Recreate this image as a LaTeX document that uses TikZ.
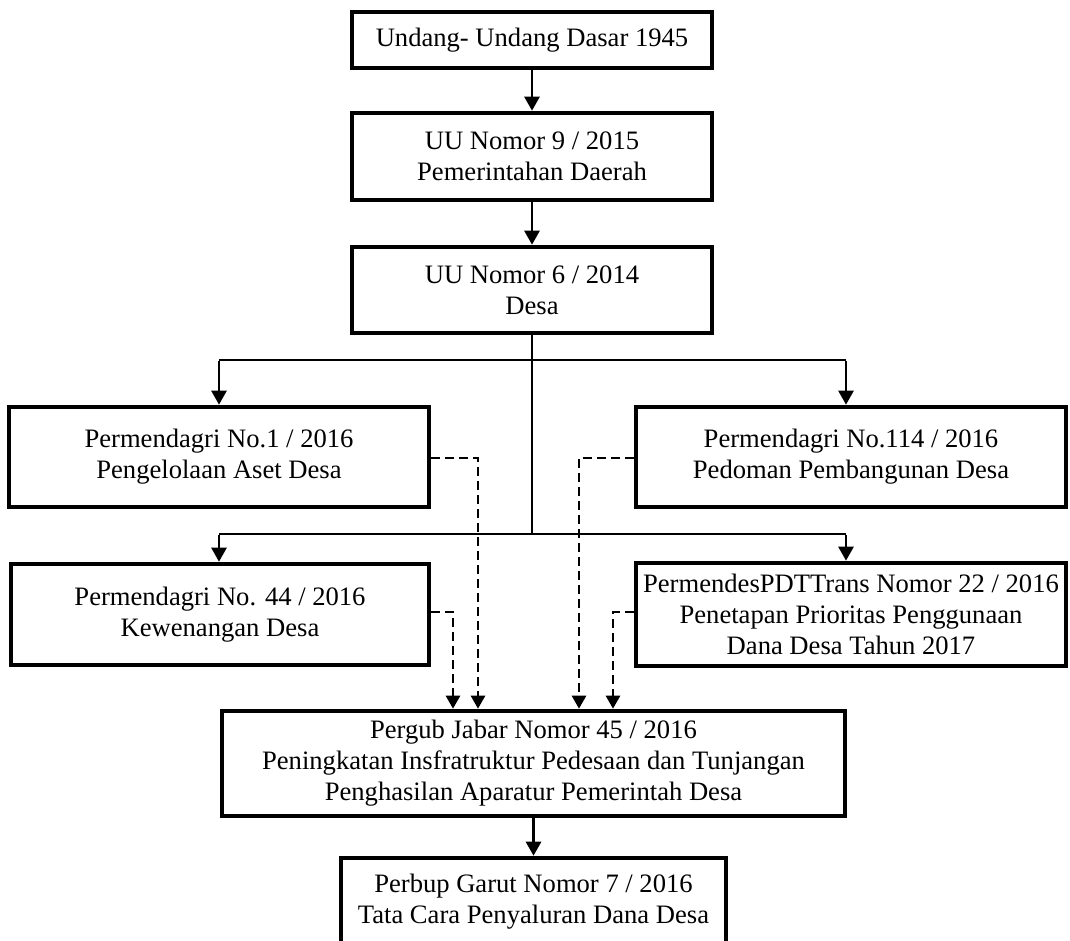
\documentclass[tikz,border=0pt]{standalone}
\usepackage{fontspec}
\setmainfont{Liberation Serif}
\usetikzlibrary{arrows.meta,calc}
\begin{document}
\begin{tikzpicture}[x=1pt,y=-1pt,
  box/.style={draw, line width=4.6pt, inner sep=0pt, align=center, fill=white,
    font=\fontsize{26.6}{31}\selectfont},
  conn/.style={line width=2.8pt, -{Triangle[width=15pt,length=14pt]}},
  branch/.style={line width=1.5pt},
  drop/.style={line width=2.5pt, -{Triangle[width=15pt,length=14pt]}},
  dsh/.style={line width=2.6pt, dash pattern=on 9pt off 5pt, -{Triangle[width=14pt,length=13pt]}}]
\useasboundingbox (0,0) rectangle (1070,940);
\clip (0,0) rectangle (1070,940);
% nodes
\node[box, minimum width=360pt, minimum height=56pt] (b1) at (532,40) {Undang- Undang Dasar 1945};
\node[box, minimum width=360pt, minimum height=87pt] (b2) at (532,156.5) {UU Nomor 9 / 2015\\Pemerintahan Daerah};
\node[box, minimum width=360pt, minimum height=86pt] (b3) at (532,290) {UU Nomor 6 / 2014\\Desa};
\node[box, minimum width=420pt, minimum height=100pt] (b4) at (219,457) {Permendagri No.1 / 2016\\Pengelolaan Aset Desa};
\node[box, minimum width=430pt, minimum height=100pt] (b5) at (851,457) {Permendagri No.114 / 2016\\Pedoman Pembangunan Desa};
\node[box, minimum width=418pt, minimum height=101pt] (b6) at (220,614.5) {Permendagri No. 44 / 2016\\Kewenangan Desa};
\node[box, minimum width=430pt, minimum height=103pt] (b7) at (851,614.5) {PermendesPDTTrans Nomor 22 / 2016\\Penetapan Prioritas Penggunaan\\Dana Desa Tahun 2017};
\node[box, minimum width=623pt, minimum height=105pt] (pg) at (533.5,763.5) {Pergub Jabar Nomor 45 / 2016\\Peningkatan Insfratruktur Pedesaan dan Tunjangan\\Penghasilan Aparatur Pemerintah Desa};
\node[box, minimum width=385pt, minimum height=87pt] (pb) at (533.5,901.5) {Perbup Garut Nomor 7 / 2016\\Tata Cara Penyaluran Dana Desa};
% coordinates
\coordinate (t2) at (532,534);
\coordinate (l1) at (219,360);
\coordinate (r1) at (846,360);
\coordinate (l2) at (219,534);
\coordinate (r2) at (846,534);
\coordinate (c1) at (478,0);
\coordinate (c2) at (453,0);
\coordinate (c3) at (579,0);
\coordinate (c4) at (613,0);
% top connectors
\draw[conn] (b1.south) -- (b2.north);
\draw[conn] (b2.south) -- (b3.north);
% trunk and branches
\draw[branch] (b3.south) -- (t2);
\draw[branch] (l1) -- (r1);
\draw[branch] (l2) -- (r2);
\draw[drop] ([yshift=-0.75pt]l1) -- (l1 |- b4.north);
\draw[drop] ([yshift=-0.75pt]r1) -- (r1 |- b5.north);
\draw[drop] ([yshift=-0.75pt]l2) -- (l2 |- b6.north);
\draw[drop] ([yshift=-0.75pt]r2) -- (r2 |- b7.north);
% dashed connectors
\draw[dsh] ([yshift=-1pt]b4.east) -| (c1 |- pg.north);
\draw[dsh] ([yshift=2.5pt]b6.east) -| (c2 |- pg.north);
\draw[dsh] ([yshift=-1pt]b5.west) -| (c3 |- pg.north);
\draw[dsh] ([yshift=2.5pt]b7.west) -| (c4 |- pg.north);
% bottom connector
\draw[conn] (pg.south) -- (pb.north);
\end{tikzpicture}
\end{document}
